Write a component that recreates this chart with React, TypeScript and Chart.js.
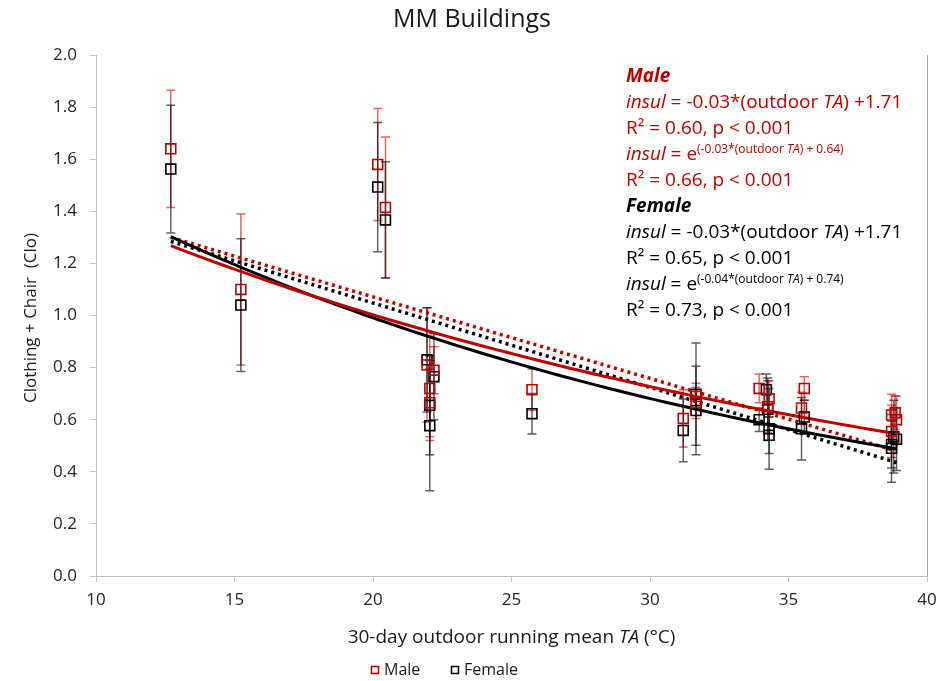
import React, { useEffect, useRef } from 'react';
import { Chart, registerables } from 'chart.js';

Chart.register(...registerables);

const FONT = '"Open Sans", Lato, sans-serif';
const RED = '#c00000';
const BLACK = '#000000';

// ---- data ----
const maleX = [12.7, 15.23, 20.17, 20.45, 21.95, 22.2, 22.05, 22.05, 25.74, 31.2, 31.66, 31.66, 33.94, 34.3, 34.25, 35.57, 35.47, 38.72, 38.85, 38.9, 38.72];
const maleY = [1.64, 1.1, 1.58, 1.415, 0.81, 0.79, 0.72, 0.665, 0.715, 0.605, 0.69, 0.665, 0.72, 0.68, 0.65, 0.72, 0.645, 0.618, 0.627, 0.6, 0.555];
const maleErr = [0.225, 0.29, 0.215, 0.27, 0.22, 0.09, 0.2, 0.13, 0.08, 0.11, 0.05, 0.06, 0.055, 0.07, 0.1, 0.045, 0.06, 0.08, 0.065, 0.09, 0.1];

const femaleX = [12.7, 15.23, 20.17, 20.45, 21.95, 22.2, 22.05, 22.05, 25.74, 31.2, 31.66, 31.66, 33.94, 34.2, 34.25, 34.3, 34.3, 35.57, 35.47, 38.8, 38.9, 38.72, 38.72];
const femaleY = [1.562, 1.04, 1.493, 1.367, 0.83, 0.765, 0.655, 0.577, 0.623, 0.559, 0.698, 0.635, 0.6, 0.715, 0.64, 0.565, 0.54, 0.61, 0.565, 0.535, 0.525, 0.505, 0.49];
const femaleErr = [0.245, 0.255, 0.248, 0.223, 0.2, 0.165, 0.19, 0.25, 0.078, 0.12, 0.196, 0.17, 0.045, 0.06, 0.12, 0.155, 0.07, 0.065, 0.12, 0.14, 0.12, 0.09, 0.13];

// trend-line fit coefficients [slope, intercept]
const maleLinearFit = [-0.0313, 1.6975];
const femaleLinearFit = [-0.0324, 1.696];
const maleExpFit = [-0.03215, 0.6457];
const femaleExpFit = [-0.03748, 0.7407];
const trendRange = [12.7, 38.9];

const xTickValues = [10, 15, 20, 25, 30, 35, 40];
const yTickValues = [0, 0.2, 0.4, 0.6, 0.8, 1.0, 1.2, 1.4, 1.6, 1.8, 2.0];

const titleText = 'MM Buildings';
const yTitle = 'Clothing + Chair  (Clo)';
const legendLabels = ['Male', 'Female'];

type Seg = { t: string; i?: boolean; b?: boolean; s?: number; dy?: number };

const SUP = 12;
const annotationLines: { color: string; segs: Seg[] }[] = [
  { color: RED, segs: [{ t: 'Male', i: true, b: true }] },
  { color: RED, segs: [{ t: 'insul', i: true }, { t: ' = -0.03*(outdoor ' }, { t: 'TA', i: true }, { t: ') +1.71' }] },
  { color: RED, segs: [{ t: 'R² = 0.60, p < 0.001' }] },
  { color: RED, segs: [{ t: 'insul', i: true }, { t: ' = e' }, { t: '(-0.03*(outdoor ', s: SUP, dy: -7 }, { t: 'TA', i: true, s: SUP, dy: -7 }, { t: ') + 0.64)', s: SUP, dy: -7 }] },
  { color: RED, segs: [{ t: 'R² = 0.66, p < 0.001' }] },
  { color: BLACK, segs: [{ t: 'Female', i: true, b: true }] },
  { color: BLACK, segs: [{ t: 'insul', i: true }, { t: ' = -0.03*(outdoor ' }, { t: 'TA', i: true }, { t: ') +1.71' }] },
  { color: BLACK, segs: [{ t: 'R² = 0.65, p < 0.001' }] },
  { color: BLACK, segs: [{ t: 'insul', i: true }, { t: ' = e' }, { t: '(-0.04*(outdoor ', s: SUP, dy: -7 }, { t: 'TA', i: true, s: SUP, dy: -7 }, { t: ') + 0.74)', s: SUP, dy: -7 }] },
  { color: BLACK, segs: [{ t: 'R² = 0.73, p < 0.001' }] },
];

function toPoints(xs: number[], ys: number[]) {
  return xs.map((x, i) => ({ x, y: ys[i] }));
}

function trendPoints(fit: number[], exp: boolean) {
  const pts: { x: number; y: number }[] = [];
  const n = 60;
  for (let k = 0; k <= n; k++) {
    const x = trendRange[0] + ((trendRange[1] - trendRange[0]) * k) / n;
    const v = fit[0] * x + fit[1];
    pts.push({ x, y: exp ? Math.exp(v) : v });
  }
  return pts;
}

function drawRich(ctx: CanvasRenderingContext2D, x: number, y: number, segs: Seg[], base: number, color: string) {
  let cx = x;
  ctx.fillStyle = color;
  ctx.textBaseline = 'alphabetic';
  ctx.textAlign = 'left';
  for (const s of segs) {
    const size = s.s || base;
    ctx.font = `${s.i ? 'italic ' : ''}${s.b ? 'bold ' : ''}${size}px ${FONT}`;
    ctx.fillText(s.t, cx, y + (s.dy || 0));
    cx += ctx.measureText(s.t).width;
  }
  return cx - x;
}

function measureRich(ctx: CanvasRenderingContext2D, segs: Seg[], base: number) {
  let w = 0;
  for (const s of segs) {
    const size = s.s || base;
    ctx.font = `${s.i ? 'italic ' : ''}${s.b ? 'bold ' : ''}${size}px ${FONT}`;
    w += ctx.measureText(s.t).width;
  }
  return w;
}

const errorBarPlugin = {
  id: 'errorBars',
  beforeDatasetsDraw(chart: any) {
    const ctx = chart.ctx as CanvasRenderingContext2D;
    const xs = chart.scales.x;
    const ys = chart.scales.y;
    const sets = [
      { X: maleX, Y: maleY, E: maleErr, c: 'rgba(204,0,0,0.6)' },
      { X: femaleX, Y: femaleY, E: femaleErr, c: 'rgba(0,0,0,0.62)' },
    ];
    ctx.save();
    ctx.lineWidth = 1.5;
    for (const s of sets) {
      ctx.strokeStyle = s.c;
      s.X.forEach((xv, i) => {
        const px = xs.getPixelForValue(xv);
        const top = ys.getPixelForValue(s.Y[i] + s.E[i]);
        const bot = ys.getPixelForValue(s.Y[i] - s.E[i]);
        ctx.beginPath();
        ctx.moveTo(px, top);
        ctx.lineTo(px, bot);
        ctx.moveTo(px - 4.5, top);
        ctx.lineTo(px + 4.5, top);
        ctx.moveTo(px - 4.5, bot);
        ctx.lineTo(px + 4.5, bot);
        ctx.stroke();
      });
    }
    ctx.restore();
  },
};

const decorPlugin = {
  id: 'decor',
  afterDraw(chart: any) {
    const ctx = chart.ctx as CanvasRenderingContext2D;
    const a = chart.chartArea;
    ctx.save();
    // right border
    ctx.strokeStyle = '#a6a6a6';
    ctx.lineWidth = 1;
    ctx.beginPath();
    ctx.moveTo(Math.round(a.right) + 0.5, a.top);
    ctx.lineTo(Math.round(a.right) + 0.5, a.bottom);
    ctx.stroke();

    // title
    ctx.fillStyle = '#1a1a1a';
    ctx.font = `25px ${FONT}`;
    ctx.textAlign = 'center';
    ctx.textBaseline = 'middle';
    ctx.fillText(titleText, 472, 20);

    // y title
    ctx.save();
    ctx.translate(31, 318);
    ctx.rotate(-Math.PI / 2);
    ctx.font = `17px ${FONT}`;
    ctx.fillStyle = '#1a1a1a';
    ctx.textAlign = 'center';
    ctx.textBaseline = 'middle';
    ctx.fillText(yTitle, 0, 0);
    ctx.restore();

    // x title
    const xt: Seg[] = [{ t: '30-day outdoor running mean ' }, { t: 'TA', i: true }, { t: ' (°C)' }];
    const w = measureRich(ctx, xt, 19);
    drawRich(ctx, (a.left + a.right) / 2 - w / 2, 643, xt, 19, '#1a1a1a');

    // annotation
    annotationLines.forEach((ln, k) => {
      drawRich(ctx, 626, 82 + k * 26, ln.segs, 19, ln.color);
    });

    // legend
    ctx.font = `16px ${FONT}`;
    ctx.textAlign = 'left';
    ctx.textBaseline = 'middle';
    const items = [
      { label: legendLabels[0], c: RED, x: 375 },
      { label: legendLabels[1], c: BLACK, x: 455 },
    ];
    for (const it of items) {
      ctx.strokeStyle = it.c;
      ctx.lineWidth = 1.5;
      ctx.strokeRect(it.x - 3.5, 670 - 3.5, 7, 7);
      ctx.fillStyle = '#1a1a1a';
      ctx.fillText(it.label, it.x + 9, 670);
    }
    ctx.restore();
  },
};

export default function App() {
  const ref = useRef<HTMLCanvasElement | null>(null);
  useEffect(() => {
    document.body.style.margin = '0';
    const canvas = ref.current!;
    const gridCommon = {
      drawOnChartArea: false,
      drawTicks: true,
      tickLength: 6,
      color: '#bfbfbf',
    };
    const chart = new Chart(canvas, {
      type: 'scatter',
      data: {
        datasets: [
          {
            label: 'Male',
            data: toPoints(maleX, maleY),
            pointStyle: 'rect',
            pointRadius: 7,
            pointBorderWidth: 1.6,
            pointBorderColor: RED,
            pointBackgroundColor: 'rgba(0,0,0,0)',
            showLine: false,
          },
          {
            label: 'Female',
            data: toPoints(femaleX, femaleY),
            pointStyle: 'rect',
            pointRadius: 7,
            pointBorderWidth: 1.6,
            pointBorderColor: BLACK,
            pointBackgroundColor: 'rgba(0,0,0,0)',
            showLine: false,
          },
          {
            label: 'Male exp',
            data: trendPoints(maleExpFit, true),
            showLine: true,
            borderColor: RED,
            borderWidth: 3,
            pointRadius: 0,
            fill: false,
          },
          {
            label: 'Female exp',
            data: trendPoints(femaleExpFit, true),
            showLine: true,
            borderColor: BLACK,
            borderWidth: 3,
            pointRadius: 0,
            fill: false,
          },
          {
            label: 'Male linear',
            data: trendPoints(maleLinearFit, false),
            showLine: true,
            borderColor: RED,
            borderWidth: 3.5,
            borderDash: [3, 4],
            pointRadius: 0,
            fill: false,
          },
          {
            label: 'Female linear',
            data: trendPoints(femaleLinearFit, false),
            showLine: true,
            borderColor: BLACK,
            borderWidth: 3.5,
            borderDash: [3, 4],
            pointRadius: 0,
            fill: false,
          },
        ],
      },
      options: {
        responsive: false,
        animation: false,
        devicePixelRatio: 1,
        layout: { padding: { left: 0, right: 18, top: 55, bottom: 0 } },
        plugins: {
          legend: { display: false },
          title: { display: false },
          tooltip: { enabled: false },
        },
        scales: {
          x: {
            type: 'linear',
            min: 10,
            max: 40,
            afterBuildTicks: (s: any) => {
              s.ticks = xTickValues.map((v) => ({ value: v }));
            },
            afterFit: (s: any) => {
              s.height = 105;
            },
            grid: gridCommon,
            border: { color: '#bfbfbf', width: 1 },
            ticks: {
              padding: 8,
              color: '#262626',
              font: { family: FONT, size: 17 },
              callback: (v: any) => String(v),
            },
          },
          y: {
            type: 'linear',
            min: 0,
            max: 2,
            afterBuildTicks: (s: any) => {
              s.ticks = yTickValues.map((v) => ({ value: v }));
            },
            afterFit: (s: any) => {
              s.width = 96;
            },
            grid: gridCommon,
            border: { color: '#bfbfbf', width: 1 },
            ticks: {
              padding: 13,
              color: '#262626',
              font: { family: FONT, size: 17 },
              callback: (v: any) => Number(v).toFixed(1),
            },
          },
        },
      },
      plugins: [errorBarPlugin, decorPlugin],
    } as any);
    return () => chart.destroy();
  }, []);
  return <canvas ref={ref} width={945} height={681} style={{ display: 'block' }} />;
}
